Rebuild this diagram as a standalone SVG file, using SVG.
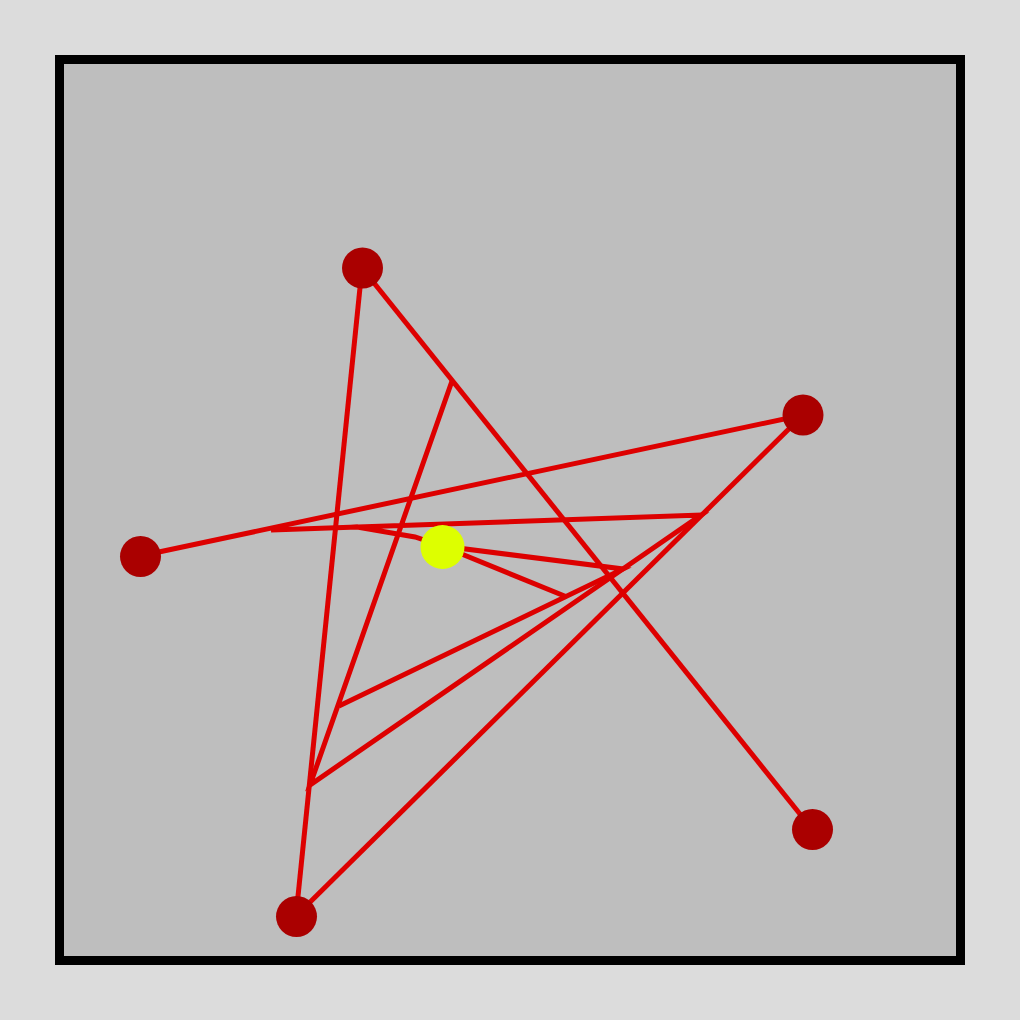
<svg xmlns="http://www.w3.org/2000/svg" width="1020" height="1020" viewBox="0 0 1020 1020">
<style>
.edge{fill:none;stroke:#dd0000;stroke-width:5;stroke-linejoin:miter;stroke-linecap:butt}
.node{fill:#aa0000}
.hub{fill:#ddff00}
</style>
<rect x="0" y="0" width="1020" height="1020" fill="#dcdcdc"/>
<rect x="59.5" y="59.5" width="901" height="901" fill="#bebebe" stroke="#000" stroke-width="9"/>
<g id="connectors">
<line class="edge" x1="362" y1="268" x2="812" y2="829"/>
<line class="edge" x1="362" y1="268" x2="296" y2="916"/>
<line class="edge" x1="803" y1="415" x2="296" y2="916"/>
<line class="edge" x1="140" y1="556" x2="803" y2="415"/>
<polyline class="edge" points="442,546 415,537 357,527 271,530 701,515 310,785 452,381"/>
<polyline class="edge" points="339,706 623,569 442,546"/>
<polyline class="edge" points="442,546 567,597"/>
</g>
<g id="n1"><circle class="node" cx="362.5" cy="268" r="20.5"/></g>
<g id="n2"><circle class="node" cx="803" cy="415" r="20.5"/></g>
<g id="n3"><circle class="node" cx="140.5" cy="556.5" r="20.5"/></g>
<g id="n4"><circle class="node" cx="812.5" cy="829.5" r="20.5"/></g>
<g id="n5"><circle class="node" cx="296.5" cy="916.5" r="20.5"/></g>
<g id="hub"><circle class="hub" cx="442.5" cy="547" r="22"/></g>
</svg>
